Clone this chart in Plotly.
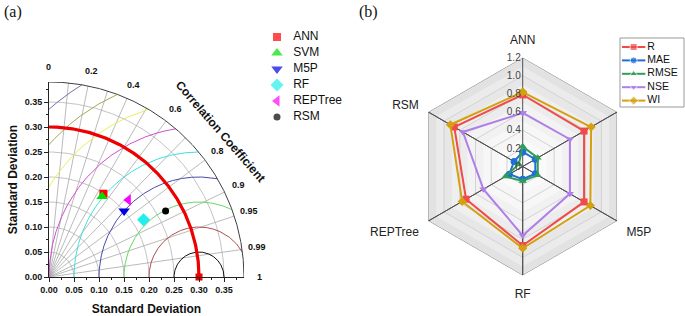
import numpy as np
import plotly.graph_objects as go

W, H = 685, 316

# ---------------- Data: Taylor diagram (a) ----------------
models = ["ANN", "SVM", "M5P", "RF", "REPTree", "RSM"]
std_dev = [0.199, 0.193, 0.200, 0.221, 0.221, 0.268]
corr_coef = [0.547, 0.550, 0.751, 0.856, 0.718, 0.870]
ref_std = 0.30
model_colors = ["#ff0000", "#00e000", "#0000e0", "#22eeee", "#ff00ff", "#000000"]
model_symbols = ["square", "triangle-up", "triangle-down", "diamond", "triangle-left", "circle"]
model_sizes = [8, 10, 10, 10, 10, 7]

std_ticks = [0.00, 0.05, 0.10, 0.15, 0.20, 0.25, 0.30, 0.35]
corr_tick_vals = [0.0, 0.2, 0.4, 0.6, 0.8, 0.9, 0.95, 0.99, 1.0]
corr_tick_text = ["0", "0.2", "0.4", "0.6", "0.8", "0.9", "0.95", "0.99", "1"]
corr_grid = [0.1, 0.2, 0.3, 0.4, 0.5, 0.6, 0.7, 0.8, 0.9, 0.95, 0.99]
std_grid = [0.05, 0.10, 0.15, 0.20, 0.25, 0.35]
rmsd_levels = [0.05, 0.10, 0.15, 0.20, 0.25, 0.30, 0.35, 0.40, 0.45]
rmsd_colors = ["#111111", "#b05050", "#66d866", "#4a4aa8", "#40e0e0",
               "#d050d0", "#eeee55", "#a8a850", "#7070b0"]

# ---------------- Data: radar chart (b) ----------------
radar_categories = ["ANN", "SVM", "M5P", "RF", "REPTree", "RSM"]
R_vals = [0.79, 0.78, 0.78, 0.87, 0.72, 0.87]
MAE_vals = [0.16, 0.16, 0.16, 0.14, 0.17, 0.11]
RMSE_vals = [0.22, 0.19, 0.19, 0.16, 0.22, 0.05]
NSE_vals = [0.59, 0.60, 0.60, 0.76, 0.50, 0.76]
WI_vals = [0.82, 0.87, 0.86, 0.90, 0.77, 0.92]
radar_ticks = [0, 0.2, 0.4, 0.6, 0.8, 1.0, 1.2]
radar_tick_text = ["0", "0.2", "0.4", "0.6", "0.8", "1.0", "1.2"]
series_names = ["R", "MAE", "RMSE", "NSE", "WI"]
series_values = [R_vals, MAE_vals, RMSE_vals, NSE_vals, WI_vals]
series_colors = ["#f04a4a", "#1f6fd6", "#2e9e5a", "#b07ee8", "#d4a010"]
series_symbols = ["square", "circle", "triangle-up", "triangle-down", "diamond"]

FONT = "Liberation Sans, Arial, sans-serif"
fig = go.Figure()

# ======== Taylor diagram ========
R_MAX = 0.39
t = np.linspace(0, np.pi / 2, 241)

def add_line(xs, ys, color, width):
    fig.add_trace(go.Scatter(x=xs, y=ys, mode="lines", line=dict(color=color, width=width),
                             hoverinfo="skip", showlegend=False, cliponaxis=False))

gx, gy = [], []
for s in std_grid:
    gx += list(s * np.cos(t)) + [None]
    gy += list(s * np.sin(t)) + [None]
add_line(gx, gy, "#b4b4b4", 0.8)

cx, cy = [], []
for c in corr_grid:
    a = np.arccos(c)
    cx += [0, R_MAX * np.cos(a), None]
    cy += [0, R_MAX * np.sin(a), None]
add_line(cx, cy, "#a8a8a8", 0.8)

tt = np.linspace(0, np.pi, 3000)
for rr, col in zip(rmsd_levels, rmsd_colors):
    xs = ref_std + rr * np.cos(tt)
    ys = rr * np.sin(tt)
    m = (xs ** 2 + ys ** 2 <= R_MAX ** 2) & (xs >= 0)
    add_line(xs[m], ys[m], col, 1.0)

add_line(list(R_MAX * np.cos(t)), list(R_MAX * np.sin(t)), "#404040", 1.0)
add_line(list(ref_std * np.cos(t)), list(ref_std * np.sin(t)), "#ee0000", 3.2)

fig.add_trace(go.Scatter(x=[ref_std], y=[0], mode="markers",
                         marker=dict(symbol="square", size=7, color="#ee0000"),
                         hoverinfo="skip", showlegend=False, cliponaxis=False))

for name, s, c, col, sym, sz in zip(models, std_dev, corr_coef, model_colors, model_symbols, model_sizes):
    fig.add_trace(go.Scatter(
        x=[s * c], y=[s * np.sqrt(1 - c ** 2)], mode="markers", name=name,
        marker=dict(symbol=sym, size=sz, color=col, line=dict(width=0)),
        showlegend=False, cliponaxis=False))

# Taylor legend (drawn in its own small axes)
n_m = len(models)
fig.add_trace(go.Scatter(x=[0.2] * n_m, y=list(range(n_m)), mode="markers",
                         marker=dict(symbol=model_symbols, size=model_sizes, color=model_colors,
                                     line=dict(width=0)),
                         xaxis="x3", yaxis="y3", hoverinfo="skip", showlegend=False, cliponaxis=False))
fig.add_trace(go.Scatter(x=[0.39] * n_m, y=list(range(n_m)), mode="text", text=models,
                         textposition="middle right",
                         textfont=dict(family=FONT, size=12, color="#111"),
                         xaxis="x3", yaxis="y3", hoverinfo="skip", showlegend=False, cliponaxis=False))

# ======== Radar chart ========
cats_closed = radar_categories + [radar_categories[0]]

band_levels = [1.2, 1.1, 1.0, 0.9, 0.8, 0.7, 0.6, 0.5, 0.4, 0.3, 0.2, 0.1]
band_colors = ["#e2e2e2", "#ebebeb", "#e7e7e7", "#efefef", "#ececec", "#f3f3f3",
               "#f1f1f1", "#f7f7f7", "#f6f6f6", "#fafafa", "#fbfbfb", "#fefefe"]
for lv, bc in zip(band_levels, band_colors):
    fig.add_trace(go.Scatterpolar(r=[lv] * 7, theta=cats_closed, mode="lines", fill="toself",
                                  fillcolor=bc, line=dict(width=0, color=bc),
                                  hoverinfo="skip", showlegend=False))

for lv in radar_ticks[1:]:
    fig.add_trace(go.Scatterpolar(r=[lv] * 7, theta=cats_closed, mode="lines",
                                  line=dict(width=1, color="#888888" if lv == 1.2 else "#d2d2d2"),
                                  hoverinfo="skip", showlegend=False))

sp_r, sp_t = [], []
for ccat in radar_categories:
    sp_r += [1.2, 0]
    sp_t += [ccat, ccat]
fig.add_trace(go.Scatterpolar(r=sp_r, theta=sp_t, mode="lines",
                              line=dict(width=1, color="#505050"),
                              hoverinfo="skip", showlegend=False))

for name, vals, col, sym in zip(series_names, series_values, series_colors, series_symbols):
    fig.add_trace(go.Scatterpolar(
        r=list(vals) + [vals[0]], theta=cats_closed, mode="lines+markers", name=name,
        line=dict(color=col, width=2), marker=dict(symbol=sym, size=7, color=col),
        showlegend=False))

# Radar legend (drawn in its own small axes); it covers the SVM axis label as in the source
for i, (name, col, sym) in enumerate(zip(series_names, series_colors, series_symbols)):
    fig.add_trace(go.Scatter(x=[0.03, 0.21, 0.39], y=[i, i, i], mode="lines+markers",
                             line=dict(color=col, width=2),
                             marker=dict(symbol=sym, size=[0, 7, 0], color=col),
                             xaxis="x4", yaxis="y4", hoverinfo="skip", showlegend=False,
                             cliponaxis=False))
fig.add_trace(go.Scatter(x=[0.42] * len(series_names), y=list(range(len(series_names))),
                         mode="text", text=series_names, textposition="middle right",
                         textfont=dict(family=FONT, size=10.5, color="#111"),
                         xaxis="x4", yaxis="y4", hoverinfo="skip", showlegend=False, cliponaxis=False))
angular_text = [c if c != "SVM" else "" for c in radar_categories]

# ======== Layout ========
x0, x1 = 49 / W, 244 / W
y0, y1 = 1 - 277 / H, 1 - 82 / H
axis_common = dict(range=[0, R_MAX], tickmode="array", tickvals=std_ticks, tickformat=".2f",
                   showline=True, linecolor="#222", linewidth=1, ticks="outside", ticklen=4,
                   tickcolor="#222", showgrid=False, zeroline=False,
                   tickfont=dict(family=FONT, size=9, color="#111", weight="bold"),
                   minor=dict(ticks="outside", ticklen=2,
                              tickvals=[0.025, 0.075, 0.125, 0.175, 0.225, 0.275, 0.325, 0.375],
                              tickcolor="#222"),
                   automargin=False, fixedrange=True)
hidden = dict(visible=False, fixedrange=True, automargin=False)

def to_paper(xv, yv):
    return x0 + xv / R_MAX * (x1 - x0), y0 + yv / R_MAX * (y1 - y0)

annotations = [
    dict(text="(a)", x=2 / W, y=1 - 12 / H, xref="paper", yref="paper", xanchor="left",
         yanchor="middle", showarrow=False,
         font=dict(family="Liberation Serif, serif", size=16, color="#111")),
    dict(text="(b)", x=357 / W, y=1 - 12 / H, xref="paper", yref="paper", xanchor="left",
         yanchor="middle", showarrow=False,
         font=dict(family="Liberation Serif, serif", size=16, color="#111")),
    dict(text="Correlation Coefficient", x=220 / W, y=1 - 131 / H, xref="paper", yref="paper",
         xanchor="center", yanchor="middle", showarrow=False, textangle=49,
         font=dict(family=FONT, size=12, color="#111", weight="bold")),
    dict(text="Reference", x=ref_std, y=-0.014, xref="x", yref="y", showarrow=False,
         xanchor="center", yanchor="middle", font=dict(family=FONT, size=11, color="#ee2222")),
]
rl = 0.42
for cv, ct in zip(corr_tick_vals, corr_tick_text):
    px_, py_ = to_paper(rl * cv, rl * np.sqrt(1 - cv ** 2))
    annotations.append(dict(text=ct, x=px_, y=py_, xref="paper", yref="paper",
                            showarrow=False, xanchor="center", yanchor="middle",
                            font=dict(family=FONT, size=9, color="#111", weight="bold")))

shapes = [
    dict(type="rect", xref="x4 domain", yref="y4 domain", x0=0, x1=0.985, y0=0, y1=1,
         line=dict(color="#999", width=1), fillcolor="rgba(255,255,255,0)", layer="above"),
]

fig.update_layout(
    width=W, height=H, margin=dict(l=0, r=0, t=0, b=0, autoexpand=False),
    paper_bgcolor="white", plot_bgcolor="rgba(0,0,0,0)", showlegend=False,
    font=dict(family=FONT, size=11, color="#222"),
    xaxis=dict(domain=[x0, x1], **axis_common,
               title=dict(text="Standard Deviation", standoff=11,
                          font=dict(family=FONT, size=12, color="#111", weight="bold"))),
    yaxis=dict(domain=[y0, y1], **axis_common,
               title=dict(text="Standard Deviation", standoff=4,
                          font=dict(family=FONT, size=12, color="#111", weight="bold"))),
    xaxis3=dict(domain=[260 / W, 345 / W], range=[0, 1], anchor="y3", **hidden),
    yaxis3=dict(domain=[1 - 125 / H, 1 - 29 / H], range=[5.5, -0.5], anchor="x3", **hidden),
    xaxis4=dict(domain=[620 / W, 1.0], range=[0, 1], anchor="y4", **hidden),
    yaxis4=dict(domain=[1 - 107 / H, 1 - 38 / H], range=[4.478, -0.672], anchor="x4", **hidden),
    polar=dict(
        domain=dict(x=[413.7 / W, 631.7 / W], y=[1 - 275.5 / H, 1 - 57.5 / H]),
        bgcolor="rgba(0,0,0,0)", gridshape="linear",
        angularaxis=dict(rotation=90, direction="clockwise", showgrid=False, showline=False,
                         tickmode="array", tickvals=radar_categories, ticktext=angular_text,
                         ticks="outside", ticklen=8, tickcolor="rgba(0,0,0,0)",
                         tickfont=dict(family=FONT, size=12, color="#222")),
        radialaxis=dict(range=[0, 1.2], angle=90, side="counterclockwise", tickmode="array",
                        tickvals=radar_ticks, ticktext=radar_tick_text, showgrid=False,
                        showline=False, ticks="", tickangle=90,
                        tickfont=dict(family=FONT, size=10, color="#444"))),
    annotations=annotations,
    shapes=shapes,
)

fig.write_html("out.html", config={"displayModeBar": False},
               post_script="document.body.style.margin='0px';")
